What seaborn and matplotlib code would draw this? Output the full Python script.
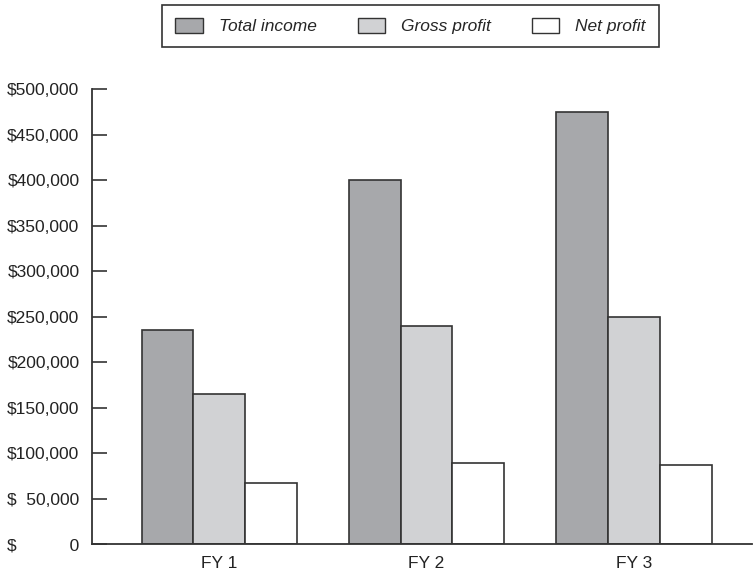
import matplotlib
matplotlib.use("Agg")
import matplotlib.pyplot as plt
import seaborn as sns
import pandas as pd
from matplotlib.patches import Patch

# ---- data ----
categories = ["FY 1", "FY 2", "FY 3"]
series_names = ["Total income", "Gross profit", "Net profit"]
total_income = [235000, 400000, 475000]
gross_profit = [165000, 240000, 250000]
net_profit = [67000, 89000, 87000]
y_ticks = [0, 50000, 100000, 150000, 200000, 250000, 300000, 350000, 400000, 450000, 500000]
FS = "\u2007"   # figure space (digit width)
PS = "\u2008"   # punctuation space (comma width)
y_tick_labels = ["$" + FS * 3 + PS + FS * 2 + "0", "$" + FS + "50,000", "$100,000", "$150,000",
                 "$200,000", "$250,000", "$300,000", "$350,000", "$400,000", "$450,000", "$500,000"]

colors = ["#a7a8ab", "#d1d2d4", "#ffffff"]
edge = "#333333"

df = pd.DataFrame({
    "year": categories * 3,
    "series": [series_names[0]] * 3 + [series_names[1]] * 3 + [series_names[2]] * 3,
    "value": total_income + gross_profit + net_profit,
})

sns.set_theme(style="white")
plt.rcParams["font.family"] = ["Liberation Sans", "DejaVu Sans"]

fig = plt.figure(figsize=(7.53, 5.75), dpi=100)
ax = fig.add_axes([92 / 753, 31 / 575, 1 - 92 / 753 - 0.001, (544 - 89.3) / 575])

sns.barplot(data=df, x="year", y="value", hue="series", hue_order=series_names,
            palette=colors, width=0.75, edgecolor=edge, linewidth=1.2,
            saturation=1, ax=ax, legend=False)

ax.set_xlim(-0.614, 2.571)
ax.set_ylim(0, 500000)
ax.set_yticks(y_ticks)
ax.set_yticklabels(y_tick_labels)
ax.set_xlabel("")
ax.set_ylabel("")

for s in ["top", "right"]:
    ax.spines[s].set_visible(False)
for s in ["left", "bottom"]:
    ax.spines[s].set_visible(True)
    ax.spines[s].set_color(edge)
    ax.spines[s].set_linewidth(1.3)

ax.tick_params(axis="y", direction="in", length=11, width=1.2, color=edge,
               labelsize=12.5, labelcolor="#222222", pad=9, left=True)
ax.tick_params(axis="x", length=0, labelsize=12.5, labelcolor="#222222", pad=9)

handles = [Patch(facecolor=c, edgecolor=edge, linewidth=1.0) for c in colors]
leg = fig.legend(handles, series_names, ncol=3, loc="center",
                 bbox_to_anchor=(410.5 / 753, 1 - 26 / 575),
                 frameon=True, fancybox=False, framealpha=1, edgecolor=edge,
                 prop={"style": "italic", "size": 12.5},
                 handlelength=1.6, handleheight=0.95, handletextpad=0.9,
                 columnspacing=2.35, borderpad=0.75)
leg.get_frame().set_linewidth(1.2)

fig.savefig("out.png", dpi=100)
